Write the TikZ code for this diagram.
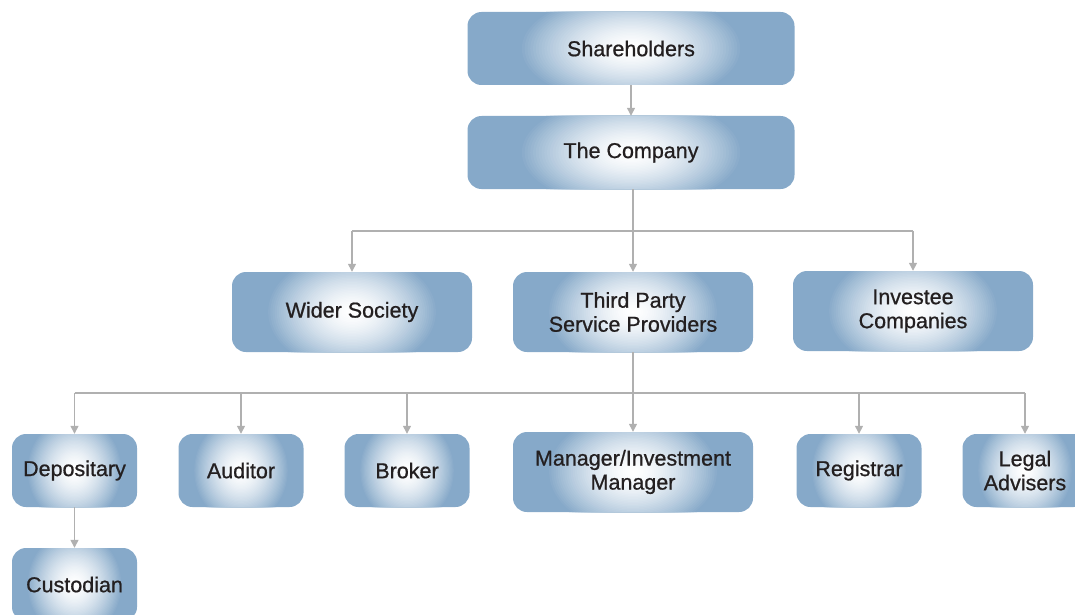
\documentclass[tikz,border=0pt]{standalone}
\usepackage{fontspec}
\setmainfont{Liberation Sans}
\newfontfamily\boxfont[FakeBold=0.8]{Liberation Sans}
\usetikzlibrary{arrows.meta, positioning}

\definecolor{boxblue}{RGB}{134,169,201}
\definecolor{linegray}{RGB}{176,176,176}
\definecolor{textdark}{RGB}{35,31,32}

\begin{document}
\begin{tikzpicture}[x=1pt, y=-1pt,
    party/.style 2 args={rounded corners=14pt, fill=boxblue, align=center, text=textdark,
      font=\boxfont\fontsize{21.5}{24}\selectfont, inner sep=0pt,
      path picture={\foreach \k in {0,...,40}{
          \pgfmathsetmacro\rr{1-\k/40}
          \pgfmathsetmacro\pct{100*\rr^1.6}
          \fill [boxblue!\pct!white] (path picture bounding box.center)
            ellipse ({#1pt*\rr} and {#2pt*\rr});}}},
    top/.style={party={112}{56}, minimum width=327pt, minimum height=73pt},
    wide/.style={party={86}{60}, minimum width=240pt, minimum height=80pt},
    small/.style={party={48}{54}, minimum width=125pt, minimum height=73pt},
    link/.style={draw=linegray, line width=1.3pt},
    arr/.style={link, -{Triangle[length=8pt, width=8pt]}}]
    \useasboundingbox (0,0) rectangle (1075,615);
    % top of the tree
    \node [top] (share) at (631,48.5) {Shareholders};
    \node [top] (company) at (631,152.5) {The Company};
    % second row
    \node [wide] (society) at (352,312) {Wider Society};
    \node [wide] (third) at (633,312) {Third Party\\Service Providers};
    \node [wide] (investee) at (913,311) {Investee\\Companies};
    % third row
    \node [small] (depositary) at (74.5,470.5) {Depositary};
    \node [small] (auditor) at (241,470.5) {Auditor};
    \node [small] (broker) at (407,470.5) {Broker};
    \node [wide] (manager) at (633,472) {Manager/Investment\\Manager};
    \node [small] (registrar) at (859,470.5) {Registrar};
    \node [small] (legal) at (1025,470.5) {Legal\\Advisers};
    \node [small] (custodian) at (74.5,584.5) {Custodian};
    % connectors
    \coordinate (bus1) at (633,231);
    \coordinate (bus2) at (633,393);
    \draw [arr] (share) -- (company);
    \draw [link] (company.south -| third) -- (bus1);
    \draw [link] (bus1 -| society) -- (bus1 -| investee);
    \draw [arr] (bus1 -| society) -- (society);
    \draw [arr] (bus1) -- (third);
    \draw [arr] (bus1 -| investee) -- (investee);
    \draw [link] (third) -- (bus2);
    \draw [link] (bus2 -| depositary) -- (bus2 -| legal);
    \draw [arr] (bus2 -| depositary) -- (depositary);
    \draw [arr] (bus2 -| auditor) -- (auditor);
    \draw [arr] (bus2 -| broker) -- (broker);
    \draw [arr] (bus2) -- (manager);
    \draw [arr] (bus2 -| registrar) -- (registrar);
    \draw [arr] (bus2 -| legal) -- (legal);
    \draw [arr] (depositary) -- (custodian);
\end{tikzpicture}
\end{document}
